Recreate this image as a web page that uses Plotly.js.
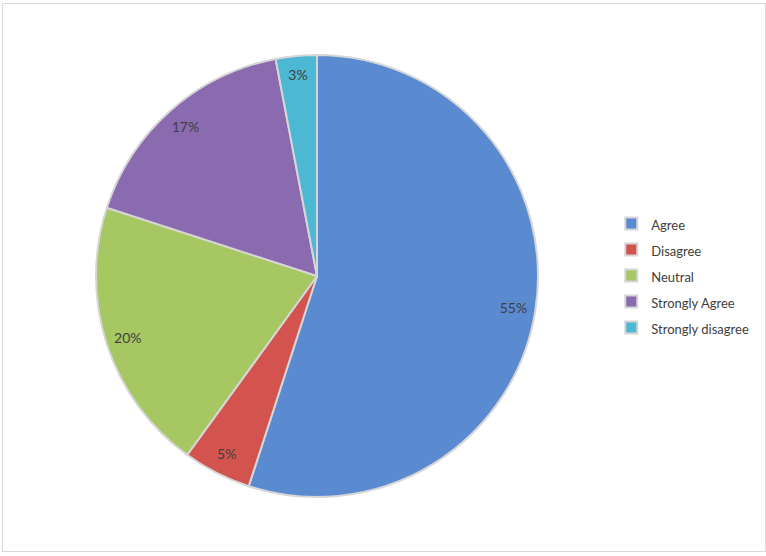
<!DOCTYPE html>
<html>
<head>
<meta charset="utf-8">
<script src="https://cdn.plot.ly/plotly-3.0.1.min.js"></script>
<style>
html,body{margin:0;padding:0;background:#fff;}
#wrap{position:relative;width:766px;height:556px;}
#chart{width:766px;height:556px;}
#frame{position:absolute;left:2px;top:3px;width:762px;height:547px;border:1px solid #d9d9d9;pointer-events:none;}
</style>
</head>
<body>
<div id="wrap"><div id="chart"></div><div id="frame"></div></div>
<script>
const categories = ["Agree", "Disagree", "Neutral", "Strongly Agree", "Strongly disagree"];
const values = [55, 5, 20, 17, 3];
const colors = ["#5A8BD0", "#D3544F", "#A6C761", "#8B6BB0", "#4DB8D4"];

const domain = {x: [96/766, 538/766], y: [59/556, 501/556]};

const basePie = {
  type: "pie",
  labels: categories.map(c => '<span style="font-size:13px">' + c + '</span>'),
  values: values,
  sort: false,
  direction: "clockwise",
  rotation: 0,
  domain: domain,
  marker: {colors: colors, line: {color: "#d6d6d6", width: 2}},
  textinfo: "none",
  hoverinfo: "label+percent",
  showlegend: true
};

const labelPie = {
  type: "pie",
  labels: categories,
  values: values,
  sort: false,
  direction: "clockwise",
  rotation: 0,
  domain: domain,
  hole: 0.8,
  marker: {colors: categories.map(() => "rgba(0,0,0,0)"), line: {width: 0}},
  textinfo: "percent",
  texttemplate: "%{percent:.0%}",
  textposition: "inside",
  insidetextorientation: "horizontal",
  insidetextfont: {family: "Lato, sans-serif", size: 14, color: "#404040"},
  hoverinfo: "skip",
  showlegend: false
};

const layout = {
  width: 766,
  height: 556,
  margin: {l: 0, r: 0, t: 0, b: 0},
  paper_bgcolor: "#ffffff",
  showlegend: true,
  legend: {
    x: 0.798, xanchor: "left",
    y: 0.5036, yanchor: "middle",
    font: {family: "Lato, sans-serif", size: 17.7, color: "#404040"},
    bgcolor: "rgba(0,0,0,0)"
  }
};

Plotly.newPlot("chart", [basePie, labelPie], layout, {displayModeBar: false, staticPlot: true});
</script>
</body>
</html>
